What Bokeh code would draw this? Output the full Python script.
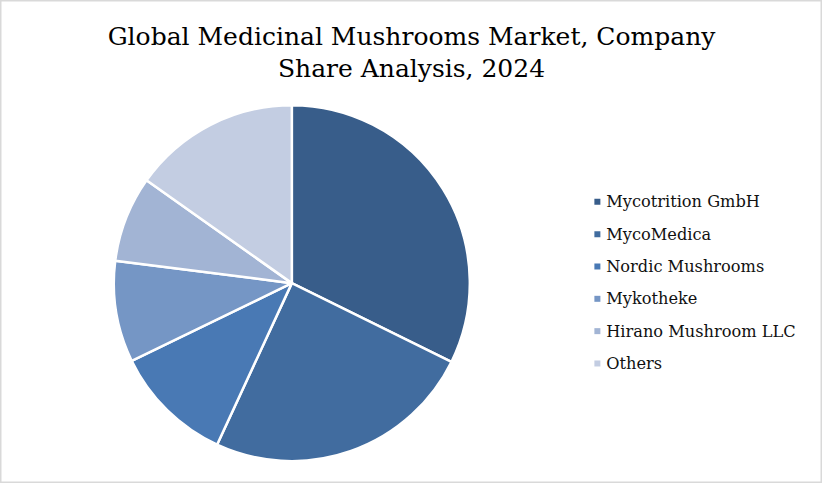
import numpy as np
from bokeh.plotting import figure
from bokeh.models import Range1d, ColumnDataSource
from bokeh.core.properties import value
from bokeh.embed import file_html
from bokeh.resources import INLINE

companies = ["Mycotrition GmbH", "MycoMedica", "Nordic Mushrooms",
             "Mykotheke", "Hirano Mushroom LLC", "Others"]
shares = [32.3, 24.6, 10.9, 9.2, 7.8, 15.2]
colors = ["#385D8A", "#416C9F", "#4979B4", "#7596C5", "#A2B4D4", "#C3CDE2"]
title_lines = ["Global Medicinal Mushrooms Market, Company", "Share Analysis, 2024"]

W, H = 822, 483
p = figure(width=W, height=H, output_backend="svg", toolbar_location=None,
           x_range=Range1d(0, 838), y_range=Range1d(0, 499),
           min_border=0)
p.axis.visible = False
p.grid.visible = False
p.outline_line_color = "#D9D9D9"
p.outline_line_width = 2
p.background_fill_color = "white"
p.border_fill_color = "white"

fr = np.array(shares) / sum(shares)
cum = np.concatenate([[0], np.cumsum(fr)])
start = np.pi / 2 - cum[1:] * 2 * np.pi
end = np.pi / 2 - cum[:-1] * 2 * np.pi

cx, cy = 297, 499 - 292
src = ColumnDataSource(dict(start=start, end=end, color=colors, name=companies))
p.wedge(x=cx, y=cy, radius=178, radius_units="screen",
        start_angle="start", end_angle="end", direction="anticlock",
        fill_color="color", line_color="white", line_width=2.5, source=src)

# legend (manual, to get small square swatches)
n = len(companies)
ly = 499 - (208 + np.arange(n) * 33.4)
lsrc = ColumnDataSource(dict(x=[608.5] * n, tx=[617.5] * n, y=ly,
                             color=colors, name=companies))
p.scatter(x="x", y="y", marker="square", size=6, fill_color="color",
          line_color=None, source=lsrc)
p.text(x="tx", y="y", text="name", source=lsrc, text_font=value("DejaVu Serif"),
       text_font_size="16.2px", text_color="#111111", text_baseline="middle",
       text_align="left")

p.text(x=[419, 419], y=[499 - 37, 499 - 70], text=title_lines,
       text_font=value("DejaVu Serif"), text_font_size="25px", text_align="center",
       text_baseline="middle", text_color="#000000")

open("out.html", "w").write(file_html(p, INLINE))
